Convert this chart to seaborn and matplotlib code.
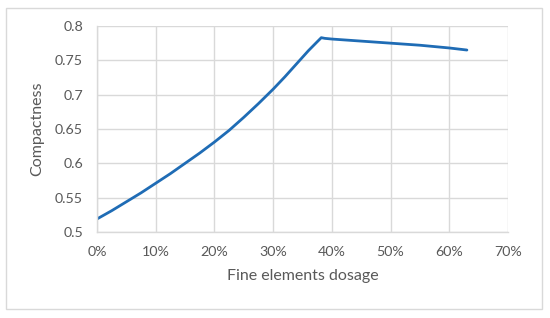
import matplotlib
matplotlib.use("Agg")
import matplotlib.pyplot as plt
import matplotlib.ticker as mticker
import seaborn as sns
import pandas as pd

# values
dosage = [0.00, 0.025, 0.05, 0.075, 0.10, 0.125, 0.15, 0.175, 0.20, 0.225, 0.25, 0.275, 0.30, 0.32, 0.34,
          0.36, 0.375, 0.382, 0.388, 0.40, 0.45, 0.50, 0.55, 0.60, 0.63]
compactness = [0.519, 0.531, 0.544, 0.557, 0.571, 0.585, 0.600, 0.615, 0.631, 0.648, 0.667, 0.687, 0.708, 0.726,
               0.745, 0.764, 0.777, 0.783, 0.782, 0.781, 0.778, 0.775, 0.772, 0.768, 0.765]

df = pd.DataFrame({"dosage": dosage, "compactness": compactness})

sns.set_theme(style="whitegrid")
plt.rcParams['font.family'] = ['Lato', 'DejaVu Sans']

fig = plt.figure(figsize=(5.5, 3.18), dpi=100)
ax = fig.add_axes([97 / 550, 1 - 232 / 318, 411 / 550, 206 / 318])

sns.lineplot(data=df, x="dosage", y="compactness", ax=ax, color="#1f6cb5", linewidth=2.0)

ax.set_xlim(0, 0.70)
ax.set_ylim(0.5, 0.8)
ax.xaxis.set_major_locator(mticker.MultipleLocator(0.10))
ax.yaxis.set_major_locator(mticker.MultipleLocator(0.05))
ax.xaxis.set_major_formatter(mticker.FuncFormatter(lambda v, p: f"{v * 100:.0f}%"))
ax.yaxis.set_major_formatter(mticker.FuncFormatter(lambda v, p: f"{v:g}"))

ax.grid(True, color="#d9d9d9", linewidth=1.0)
for side in ["top", "right"]:
    ax.spines[side].set_visible(False)
for side in ["left", "bottom"]:
    ax.spines[side].set_color("#d9d9d9")
    ax.spines[side].set_linewidth(1.0)

ax.tick_params(axis="both", colors="#595959", labelsize=10.3, length=0, pad=10)
ax.set_xlabel("Fine elements dosage", color="#595959", fontsize=11.5, labelpad=8)
ax.set_ylabel("Compactness", color="#595959", fontsize=11.5, labelpad=8)

# outer chart border
fig.patches.append(plt.Rectangle((6 / 550, 9 / 318), 536 / 550, 301 / 318, transform=fig.transFigure,
                                 fill=False, edgecolor="#d9d9d9", linewidth=1.0))

fig.savefig("out.png", dpi=100, facecolor="white")
